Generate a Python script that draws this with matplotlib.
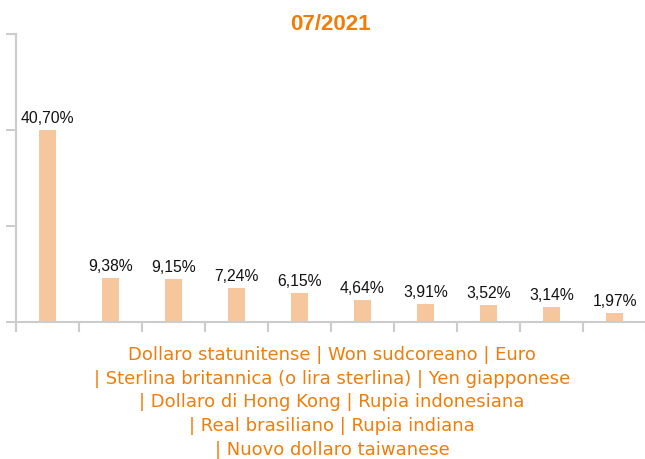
import numpy as np
import matplotlib
matplotlib.use("Agg")
import matplotlib.pyplot as plt

categories = ["Dollaro statunitense", "Won sudcoreano", "Euro",
              "Sterlina britannica (o lira sterlina)", "Yen giapponese",
              "Dollaro di Hong Kong", "Rupia indonesiana",
              "Real brasiliano", "Rupia indiana", "Nuovo dollaro taiwanese"]
values = [40.70, 9.38, 9.15, 7.24, 6.15, 4.64, 3.91, 3.52, 3.14, 1.97]
labels = ["40,70%", "9,38%", "9,15%", "7,24%", "6,15%",
          "4,64%", "3,91%", "3,52%", "3,14%", "1,97%"]
title = "07/2021"
y_max = 61

orange = '#F07D0A'
bar_color = '#F6C79C'
axis_color = '#CCCCCC'

fig = plt.figure(figsize=(6.45, 4.59), dpi=100)
ax = fig.add_axes([16 / 645, 137 / 459, 630 / 645, 288 / 459])

x = np.arange(len(values))
ax.bar(x, values, width=0.27, color=bar_color)
for xi, v, lab in zip(x, values, labels):
    ax.annotate(lab, (xi, v), xytext=(0, 5), textcoords='offset points',
                ha='center', va='baseline', fontsize=11.3,
                family='Liberation Sans', color='#111111')

ax.set_xlim(-0.5, len(values) - 0.5)
ax.set_ylim(0, y_max)
ax.set_yticks(np.linspace(0, y_max, 4))
ax.set_yticklabels([])
ax.set_xticks(np.arange(len(values) + 1) - 0.5)
ax.set_xticklabels([])
ax.tick_params(axis='both', colors=axis_color, length=7, width=1.5, direction='out')

for s in ['top', 'right']:
    ax.spines[s].set_visible(False)
for s in ['left', 'bottom']:
    ax.spines[s].set_color(axis_color)
    ax.spines[s].set_linewidth(1.5)

# the category names are joined into one wrapped caption under the axis
xlabel = ("Dollaro statunitense | Won sudcoreano | Euro\n"
          "| Sterlina britannica (o lira sterlina) | Yen giapponese\n"
          "| Dollaro di Hong Kong | Rupia indonesiana\n"
          "| Real brasiliano | Rupia indiana\n"
          "| Nuovo dollaro taiwanese")
fig.text(332 / 645, 1 - 346 / 459, xlabel, ha='center', va='top', fontsize=13,
         color=orange, family='DejaVu Sans', linespacing=1.41)

fig.text(330 / 645, 1 - 25 / 459, title, ha='center', va='center', fontsize=16,
         fontweight='bold', color=orange, family='Liberation Sans')

fig.savefig("out.png", dpi=100)
